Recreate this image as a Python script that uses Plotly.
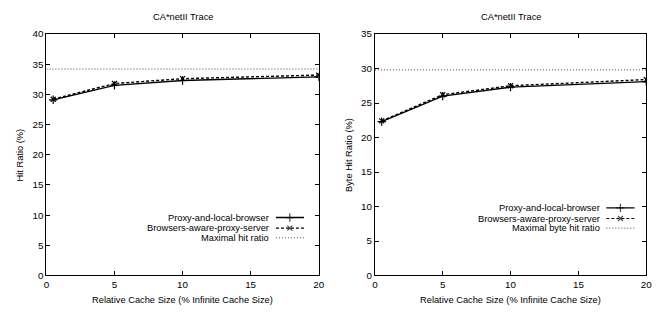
import plotly.graph_objects as go

# ---------------- data ----------------
cache_sizes = [0.5, 5, 10, 20]
hit_proxy_local = [29.1, 31.5, 32.3, 32.9]
hit_browsers_aware = [29.2, 31.8, 32.6, 33.2]
hit_maximal = 34.2
byte_proxy_local = [22.3, 26.0, 27.3, 28.1]
byte_browsers_aware = [22.4, 26.2, 27.5, 28.4]
byte_maximal = 29.8

series_names = ["Proxy-and-local-browser", "Browsers-aware-proxy-server"]
max_names = ["Maximal hit ratio", "Maximal byte hit ratio"]
title_text = "CA*netII Trace"
x_title = "Relative Cache Size (% Infinite Cache Size)"
y_titles = ["Hit Ratio (%)", "Byte Hit Ratio (%)"]
x_ticks = [0, 5, 10, 15, 20]

FONT = "Liberation Sans, Arial, sans-serif"
FS = 9.3
W, H = 667, 323
MAXCOL = "#444444"

# pixel layout of the two plot areas
panels = [
    dict(x0=44, x1=320, y0=29, y1=279, ymax=40, yt=list(range(0, 41, 5)),
         a=hit_proxy_local, b=hit_browsers_aware, m=hit_maximal,
         mname=max_names[0], ytitle=y_titles[0],
         key_y=[0.240, 0.196, 0.156], key_x=[0.843, 0.894, 0.946], text_x=0.825),
    dict(x0=377, x1=652, y0=29, y1=279, ymax=35, yt=list(range(0, 36, 5)),
         a=byte_proxy_local, b=byte_browsers_aware, m=byte_maximal,
         mname=max_names[1], ytitle=y_titles[1],
         key_y=[0.280, 0.236, 0.196], key_x=[0.853, 0.905, 0.957], text_x=0.836),
]

fig = go.Figure()
annotations = []
layout_axes = {}

for i, p in enumerate(panels):
    n = i + 1
    xa = "x" if n == 1 else f"x{n}"
    ya = "y" if n == 1 else f"y{n}"
    ox, oy = f"x{n + 2}", f"y{n + 2}"
    dom_x = [p["x0"] / W, p["x1"] / W]
    dom_y = [1 - p["y1"] / H, 1 - p["y0"] / H]

    fig.add_trace(go.Scatter(
        x=cache_sizes, y=p["a"], mode="lines+markers", xaxis=xa, yaxis=ya,
        line=dict(color="black", width=1.4),
        marker=dict(symbol="cross-thin", size=6, line=dict(color="black", width=1.2)),
        showlegend=False))
    fig.add_trace(go.Scatter(
        x=cache_sizes, y=p["b"], mode="lines+markers", xaxis=xa, yaxis=ya,
        line=dict(color="black", width=1.4, dash="3px,2px"),
        marker=dict(symbol="x-thin", size=5, line=dict(color="black", width=1.2)),
        showlegend=False))
    fig.add_trace(go.Scatter(
        x=[0, 20], y=[p["m"], p["m"]], mode="lines", xaxis=xa, yaxis=ya,
        line=dict(color=MAXCOL, width=1, dash="1px,2px"),
        showlegend=False))

    # legend keys (gnuplot style: text right-aligned, sample on the right)
    kx = p["key_x"]
    fig.add_trace(go.Scatter(
        x=kx, y=[p["key_y"][0]] * 3, mode="lines+markers", xaxis=ox, yaxis=oy,
        line=dict(color="black", width=1.4),
        marker=dict(symbol="cross-thin", size=[0, 6, 0], line=dict(color="black", width=1.2)),
        showlegend=False, hoverinfo="skip"))
    fig.add_trace(go.Scatter(
        x=kx, y=[p["key_y"][1]] * 3, mode="lines+markers", xaxis=ox, yaxis=oy,
        line=dict(color="black", width=1.2, dash="3px,2px"),
        marker=dict(symbol="x-thin", size=[0, 5, 0], line=dict(color="black", width=1.2)),
        showlegend=False, hoverinfo="skip"))
    fig.add_trace(go.Scatter(
        x=[kx[0], kx[2]], y=[p["key_y"][2]] * 2, mode="lines", xaxis=ox, yaxis=oy,
        line=dict(color=MAXCOL, width=1, dash="1px,2px"),
        showlegend=False, hoverinfo="skip"))
    for name, ky in zip(series_names + [p["mname"]], p["key_y"]):
        annotations.append(dict(text=name, x=p["text_x"], y=ky, xref=ox, yref=oy,
                                xanchor="right", yanchor="middle", showarrow=False,
                                font=dict(family=FONT, size=FS, color="black")))

    axis_common = dict(showline=True, linecolor="black", linewidth=1, mirror="ticks",
                       ticks="inside", ticklen=4, tickcolor="black", showgrid=False,
                       zeroline=False, tickfont=dict(family=FONT, size=FS + 0.5, color="black"))
    layout_axes[f"xaxis{'' if n == 1 else n}"] = dict(
        domain=dom_x, range=[0, 20], tickvals=x_ticks, anchor=ya, **axis_common)
    layout_axes[f"yaxis{'' if n == 1 else n}"] = dict(
        domain=dom_y, range=[0, p["ymax"]], tickvals=p["yt"], anchor=xa, **axis_common)
    layout_axes[f"xaxis{n + 2}"] = dict(overlaying=xa, range=[0, 1], visible=False, anchor=oy)
    layout_axes[f"yaxis{n + 2}"] = dict(overlaying=ya, range=[0, 1], visible=False, anchor=ox)

    cx = (p["x0"] + p["x1"]) / 2 / W
    annotations.append(dict(text=title_text, x=cx, y=1 - 11 / H, xref="paper", yref="paper",
                            xanchor="center", yanchor="middle", showarrow=False,
                            font=dict(family=FONT, size=FS, color="black")))
    annotations.append(dict(text=x_title, x=cx, y=1 - 304 / H, xref="paper", yref="paper",
                            xanchor="center", yanchor="middle", showarrow=False,
                            font=dict(family=FONT, size=FS, color="black")))
    annotations.append(dict(text=p["ytitle"], x=(p["x0"] - 27) / W,
                            y=1 - ((p["y0"] + p["y1"]) / 2) / H, xref="paper", yref="paper",
                            xanchor="center", yanchor="middle", showarrow=False, textangle=-90,
                            font=dict(family=FONT, size=FS, color="black")))

fig.update_layout(width=W, height=H, margin=dict(l=0, r=0, t=0, b=0),
                  paper_bgcolor="white", plot_bgcolor="white",
                  annotations=annotations, **layout_axes)
fig.write_html("out.html")
